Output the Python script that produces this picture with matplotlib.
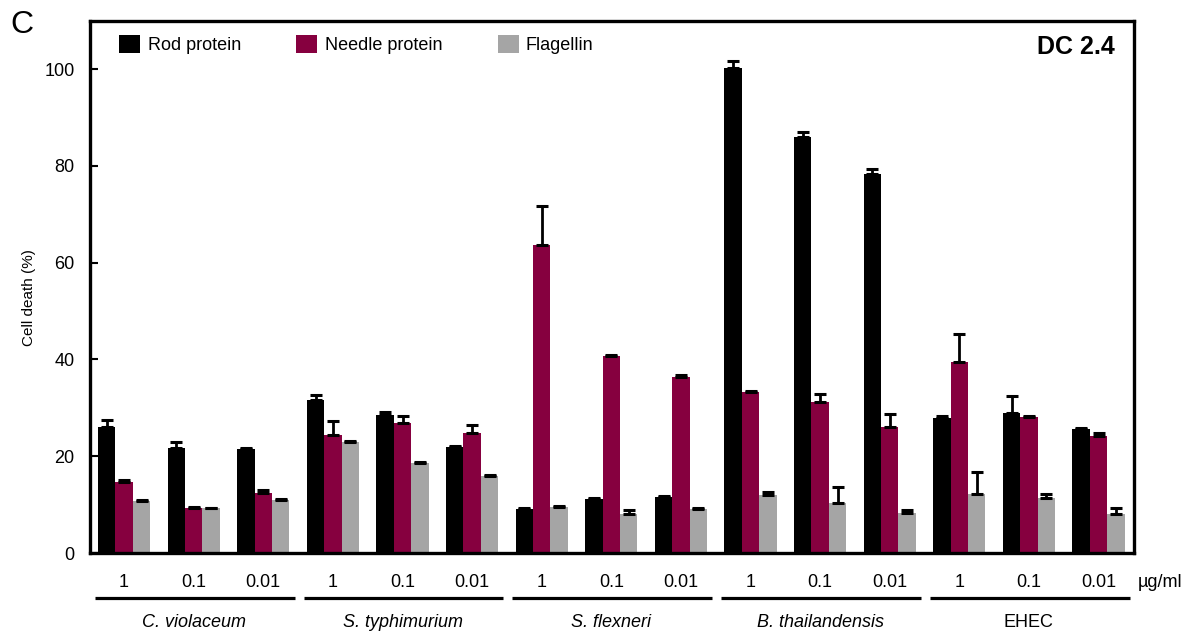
import numpy as np
import matplotlib
matplotlib.use("Agg")
import matplotlib.pyplot as plt
from matplotlib.patches import Patch
from matplotlib.transforms import blended_transform_factory

plt.rcParams["font.family"] = ["Liberation Sans", "DejaVu Sans"]

species = ["C. violaceum", "S. typhimurium", "S. flexneri", "B. thailandensis", "EHEC"]
doses = ["1", "0.1", "0.01"]
series = ["Rod protein", "Needle protein", "Flagellin"]

rod = [26.1, 21.6, 21.5, 31.6, 28.5, 22.0, 9.0, 11.2, 11.5, 100.3, 86.0, 78.4, 28.0, 28.9, 25.6]
rod_err = [1.4, 1.3, 0.2, 1.0, 0.7, 0.2, 0.2, 0.2, 0.2, 1.4, 0.9, 1.0, 0.3, 3.5, 0.2]
needle = [14.6, 9.4, 12.3, 24.3, 26.9, 24.9, 63.6, 40.8, 36.3, 33.2, 31.3, 26.0, 39.4, 28.2, 24.2]
needle_err = [0.4, 0.2, 0.7, 3.0, 1.4, 1.5, 8.1, 0.2, 0.4, 0.2, 1.5, 2.7, 5.8, 0.2, 0.7]
flag = [10.7, 9.2, 10.9, 22.9, 18.5, 16.0, 9.5, 8.1, 9.1, 11.9, 10.3, 8.2, 12.2, 11.4, 8.1]
flag_err = [0.2, 0.2, 0.2, 0.2, 0.3, 0.2, 0.2, 0.8, 0.2, 0.7, 3.3, 0.7, 4.6, 0.7, 1.1]

colors = ["#000000", "#86003f", "#a5a5a5"]

fig = plt.figure(figsize=(11.92, 6.32), dpi=100)
ax = fig.add_axes([90 / 1192, 79 / 632, 1044 / 1192, 532.3 / 632])

x = np.arange(len(rod))
w = 0.25
for k, (vals, errs) in enumerate([(rod, rod_err), (needle, needle_err), (flag, flag_err)]):
    xs = x + (k - 1) * w
    ax.bar(xs, vals, width=w, color=colors[k], linewidth=0, zorder=2)
    ax.errorbar(xs, vals, yerr=[np.zeros(len(vals)), errs], fmt="none",
                ecolor="black", elinewidth=2.0, capsize=4.6, capthick=2.2, zorder=3)

ax.set_xlim(-0.49, 14.51)
ax.set_ylim(0, 110)
ax.set_yticks([0, 20, 40, 60, 80, 100])
ax.tick_params(axis="y", direction="in", length=5.8, width=1.5, labelsize=13, pad=11)
ax.set_xticks([])
for s in ax.spines.values():
    s.set_linewidth(2.4)

ax.set_ylabel("Cell death (%)", fontsize=11)
ax.yaxis.set_label_coords(-0.052, 0.48)

# dose labels, group lines and species names below the axis
tr = blended_transform_factory(ax.transData, ax.transAxes)
for i in x:
    ax.text(i, -0.063, doses[i % 3], transform=tr, ha="center", va="baseline", fontsize=13)
for g, name in enumerate(species):
    first, last = 3 * g, 3 * g + 2
    ax.plot([first - 0.42, last + 0.45], [-0.0845, -0.0845], transform=tr,
            color="black", linewidth=2.3, clip_on=False, solid_capstyle="butt")
    ax.text(first + 1, -0.139, name, transform=tr, ha="center", va="baseline",
            fontsize=13, style="normal" if name == "EHEC" else "italic")
ax.text(1.004, -0.063, "µg/ml", transform=ax.transAxes, ha="left", va="baseline", fontsize=13)

ax.text(0.9818, 0.9506, "DC 2.4", transform=ax.transAxes, ha="right", va="center",
        fontsize=18, fontweight="bold")
fig.text(0.0084, 0.9604, "C", ha="left", va="center", fontsize=23)

handles = [Patch(facecolor=c, edgecolor="none") for c in colors]
ax.legend(handles, series, ncol=3, loc="upper left", bbox_to_anchor=(0.0281, 0.973),
          frameon=False, fontsize=13, handlelength=1.16, handleheight=1.16,
          handletextpad=0.4, columnspacing=3.08, borderpad=0, borderaxespad=0)

fig.savefig("out.png", dpi=100)
